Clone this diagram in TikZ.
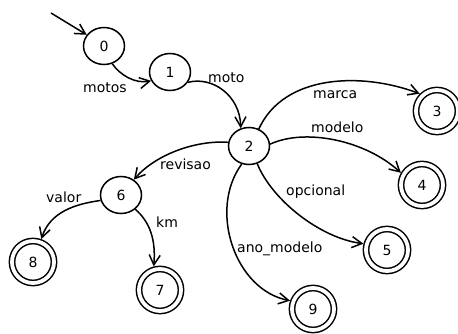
\documentclass[tikz,border=0pt]{standalone}
\usepackage{fontspec}
\setmainfont{DejaVu Sans}
\usetikzlibrary{arrows.meta,shapes.geometric}
\begin{document}
\begin{tikzpicture}[x=1pt,y=1pt,
  every node/.style={font=\fontsize{14}{16}\selectfont},
  st/.style={draw, ellipse, line width=1.5pt, minimum width=41pt, minimum height=37pt, inner sep=0pt},
  acc/.style={draw, circle, line width=1.5pt, double, double distance=3.8pt, minimum size=42pt, inner sep=0pt, outer sep=3.4pt},
  trans/.style={line width=1.5pt, -{Straight Barb[length=10pt,width=11pt]}},
  lbl/.style={anchor=base west, inner sep=0pt}]
  \useasboundingbox (0,0) rectangle (458,-334);

  % states
  \node[st]  (n0) at (104,-46)  {0};
  \node[st]  (n1) at (170,-72)  {1};
  \node[st]  (n2) at (249,-146) {2};
  \node[st]  (n6) at (121,-195) {6};
  \node[acc] (n3) at (437,-111) {3};
  \node[acc] (n4) at (422,-185) {4};
  \node[acc] (n5) at (387,-250) {5};
  \node[acc] (n9) at (313,-309) {9};
  \node[acc] (n8) at (33,-262)  {8};
  \node[acc] (n7) at (160,-290) {7};

  % initial arrow
  \coordinate (start) at (51,-13);
  \draw[trans] (start) -- (n0.147);

  % transitions
  \draw[trans] (n0.-65) .. controls (120,-75) and (135,-84) .. (n1.205);
  \draw[trans] (n1.-30) .. controls (212,-76) and (240,-95) .. (n2.115);
  \draw[trans] (n2.60) .. controls (284,-74) and (362,-72) .. (n3.135);
  \draw[trans] (n2.5) .. controls (305,-128) and (365,-140) .. (n4.150);
  \draw[trans] (n2.-65) .. controls (272,-200) and (320,-238) .. (n5.165);
  \draw[trans] (n2.-112) .. controls (208,-210) and (235,-290) .. (n9.160);
  \draw[trans] (n2.170) .. controls (195,-140) and (155,-155) .. (n6.50);
  \draw[trans] (n6.195) .. controls (75,-204) and (50,-212) .. (n8.70);
  \draw[trans] (n6.-45) .. controls (150,-222) and (156,-240) .. (n7.105);

  % transition labels
  \node[lbl] (l01) at (83,-93)  {motos};
  \node[lbl] (l12) at (208,-83) {moto};
  \node[lbl] (l23) at (313,-99) {marca};
  \node[lbl] (l24) at (311,-133) {modelo};
  \node[lbl] (l25) at (286,-195) {opcional};
  \node[lbl] (l29) at (237,-252) {ano\_modelo};
  \node[lbl] (l26) at (160,-170) {revisao};
  \node[lbl] (l68) at (46,-203) {valor};
  \node[lbl] (l67) at (156,-227) {km};
\end{tikzpicture}
\end{document}
